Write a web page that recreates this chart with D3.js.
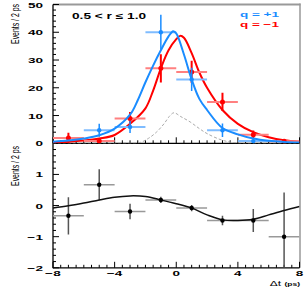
<!DOCTYPE html>
<html><head><meta charset="utf-8">
<script src="https://cdn.jsdelivr.net/npm/d3@7"></script>
<style>html,body{margin:0;padding:0;background:#fff;}svg{display:block;}</style>
</head><body>
<script>
// ---------- data ----------
const bins = [-7, -5, -3, -1, 1, 3, 5, 7];
const binHalfWidth = 1;
const plusVals  = [null, 4.7, 5.9, 40, 23, 4.7, 0.8, null];
const plusErr   = [null, 2.3, 2.2, 6.3, 4.2, 2.4, 1.0, null];
const minusVals = [1.9, 0.8, 8.9, 27, 25.7, 14.9, 3.1, 0.7];
const minusErr  = [1.9, 0.8, 2.4, 5.1, 4.0, 3.3, 1.5, 0.7];
const asymVals  = [-0.33, 0.67, -0.19, 0.18, -0.08, -0.48, -0.48, -1.0];
const asymErr   = [0.6, 0.5, 0.25, 0.1, 0.1, 0.15, 0.37, 1.42];

const plusCurveX  = [-8, -7, -6, -5, -4, -3, -2.5, -2, -1.5, -1, -0.5, -0.2, 0, 0.5, 1, 1.5, 2, 3, 4, 5, 6, 7, 8];
const plusCurveY  = [0.6, 1.0, 1.7, 2.9, 5.3, 10.3, 15.5, 22, 28, 33.5, 38.5, 40.4, 39.6, 32, 23, 16, 12, 5.5, 3.2, 1.7, 0.9, 0.5, 0.3];
const minusCurveX = [-8, -7, -6, -5, -4, -3, -2, -1.5, -1, -0.5, 0, 0.25, 0.5, 1, 1.5, 2, 3, 4, 5, 6, 7, 8];
const minusCurveY = [0.4, 0.6, 1.0, 1.7, 3.0, 7.0, 12.6, 19, 27, 33.5, 37.5, 38.7, 38, 32.5, 25.5, 20, 12, 7, 4, 2.2, 1.1, 0.6];
const bkgCurveX   = [-8, -3.5, -2.35, -1.8, -1.27, -0.8, -0.4, -0.15, 0.3, 0.9, 1.5, 2, 3, 4, 8];
const bkgCurveY   = [0, 0, 0.3, 1.8, 4.1, 7.0, 10, 11, 9.6, 7.7, 5.3, 3.5, 1.1, 0.1, 0];
const asymCurveX  = [-8, -7, -6, -5, -4, -3, -2, -1, 0, 1, 2, 3, 4, 5, 6, 7, 8];
const asymCurveY  = [-0.08, -0.01, 0.08, 0.18, 0.27, 0.31, 0.29, 0.18, 0.06, -0.08, -0.3, -0.46, -0.48, -0.44, -0.3, -0.16, -0.03];

const yTopTicks = [0, 10, 20, 30, 40, 50];
const yBotTicks = [-2, -1, 0, 1];
const xTicks = [-8, -4, 0, 4, 8];

// ---------- layout ----------
const W = 305, H = 288;
const L = 53, R = 299.5, T = 4.5, MID = 143.3, B = 267.8;
const blue = "#1a8cff", red = "#ff0000";
const blueLight = "#7fbcff", redLight = "#ff8080";

const svg = d3.select("body").append("svg").attr("width", W).attr("height", H);

const x = d3.scaleLinear().domain([-8, 8]).range([L, R]);
const yT = d3.scaleLinear().domain([0, 50]).range([MID, T]);
const yB = d3.scaleLinear().domain([-2, 2]).range([B, MID]);

svg.append("clipPath").attr("id", "cT").append("rect")
  .attr("x", L).attr("y", T).attr("width", R - L).attr("height", MID - T);
svg.append("clipPath").attr("id", "cB").append("rect")
  .attr("x", L).attr("y", MID).attr("width", R - L).attr("height", B - MID);

// frame
svg.append("line").attr("x1", L).attr("x2", R + 1).attr("y1", T).attr("y2", T)
  .attr("stroke", "#999").attr("stroke-width", 2);
svg.append("line").attr("x1", R + 0.5).attr("x2", R + 0.5).attr("y1", T - 1).attr("y2", B)
  .attr("stroke", "#999").attr("stroke-width", 1.5);

// ticks
const tk = svg.append("g").attr("stroke", "#000").attr("stroke-width", 1);
d3.range(0, 50.01, 2).forEach(v => {
  const major = v % 10 === 0;
  tk.append("line").attr("x1", L).attr("x2", L + (major ? 6 : 3))
    .attr("y1", yT(v)).attr("y2", yT(v));
});
d3.range(-2, 2.001, 0.2).forEach(v => {
  const major = Math.abs(v - Math.round(v)) < 1e-6;
  tk.append("line").attr("x1", L).attr("x2", L + (major ? 6 : 3))
    .attr("y1", yB(v)).attr("y2", yB(v));
});
[MID, B].forEach(yy => {
  d3.range(-8, 8.001, 0.5).forEach(v => {
    const major = Math.abs(v % 4) < 1e-6;
    tk.append("line").attr("x1", x(v)).attr("x2", x(v))
      .attr("y1", yy).attr("y2", yy - (major ? 6 : 3));
  });
});

// axes lines
svg.append("line").attr("x1", L).attr("x2", L).attr("y1", T).attr("y2", B + 0.5)
  .attr("stroke", "#000").attr("stroke-width", 1.3);
svg.append("line").attr("x1", L).attr("x2", R).attr("y1", MID).attr("y2", MID)
  .attr("stroke", "#000").attr("stroke-width", 1.2);
svg.append("line").attr("x1", L).attr("x2", R).attr("y1", B).attr("y2", B)
  .attr("stroke", "#000").attr("stroke-width", 1.3);

// text helper (horizontally wide / vertically squished)
function sText(g, tx, ty, str, opts) {
  const o = Object.assign({ size: 13.5, weight: "bold", anchor: "start", sy: 0.6, fill: "#000", rot: 0, family: "Liberation Sans, Arial, sans-serif" }, opts || {});
  const gg = g.append("g").attr("transform", `translate(${tx},${ty}) rotate(${o.rot}) scale(${o.rot ? o.sy : 1},${o.rot ? 1 : o.sy})`);
  return gg.append("text").attr("x", 0).attr("y", 0)
    .attr("font-family", o.family).attr("font-size", o.size).attr("font-weight", o.weight)
    .attr("text-anchor", o.anchor).attr("fill", o.fill).text(str);
}

const tg = svg.append("g");
yTopTicks.forEach(v => sText(tg, 43, yT(v) + 3, String(v), { anchor: "end", size: 13.5 }));
yBotTicks.forEach(v => sText(tg, 43, yB(v) + 3, v < 0 ? "\u2212" + Math.abs(v) : String(v), { anchor: "end", size: 13.5 }));
xTicks.forEach(v => sText(tg, x(v), 276, v < 0 ? "\u2212" + Math.abs(v) : String(v), { anchor: "middle", size: 13.5 }));

// axis title x
const xt = svg.append("g").attr("transform", "translate(300,286) scale(1,0.6)");
const xtt = xt.append("text").attr("text-anchor", "end").attr("font-family", "Liberation Sans, Arial, sans-serif");
xtt.append("tspan").attr("font-size", 12).text("\u0394t ");
xtt.append("tspan").attr("font-size", 8.5).attr("font-weight", "bold").text("(ps)");

// y titles (rotated, squished along text)
function yTitle(cy) {
  const g = svg.append("g").attr("transform", `translate(19,${cy}) rotate(-90) scale(0.6,1)`);
  g.append("text").attr("text-anchor", "middle").attr("font-family", "Liberation Sans, Arial, sans-serif")
    .attr("font-size", 11.5).text("Events / 2 ps");
}
yTitle(24);
yTitle(166);

// labels in panel
sText(svg, 72, 19, "0.5 < r \u2264 1.0", { size: 13.7 });
sText(svg, 240, 17, "q = +1", { size: 13.5, fill: blue });
sText(svg, 240, 27, "q =  \u22121", { size: 13.5, fill: red });

// curves
const lineT = d3.line().x(d => x(d[0])).y(d => yT(d[1])).curve(d3.curveCatmullRom.alpha(0.5));
const lineB = d3.line().x(d => x(d[0])).y(d => yB(d[1])).curve(d3.curveCatmullRom.alpha(0.5));
const cg = svg.append("g").attr("clip-path", "url(#cT)");
cg.append("path").datum(d3.zip(bkgCurveX, bkgCurveY)).attr("d", lineT)
  .attr("fill", "none").attr("stroke", "#aaa").attr("stroke-width", 1).attr("stroke-dasharray", "3,2");

// error bars top
function drawPoints(vals, errs, col, light, vw, r) {
  const g = svg.append("g").attr("clip-path", "url(#cT)");
  const data = bins.map((b, i) => ({ b, v: vals[i], e: errs[i] })).filter(d => d.v !== null);
  g.selectAll(".h").data(data).enter().append("line")
    .attr("x1", d => x(d.b - binHalfWidth)).attr("x2", d => x(d.b + binHalfWidth))
    .attr("y1", d => yT(d.v)).attr("y2", d => yT(d.v))
    .attr("stroke", light).attr("stroke-width", 2);
  g.selectAll(".v").data(data).enter().append("line")
    .attr("x1", d => x(d.b)).attr("x2", d => x(d.b))
    .attr("y1", d => yT(d.v - d.e)).attr("y2", d => yT(d.v + d.e))
    .attr("stroke", col).attr("stroke-width", vw);
  g.selectAll("circle").data(data).enter().append("circle")
    .attr("cx", d => x(d.b)).attr("cy", d => yT(d.v)).attr("r", r).attr("fill", col);
}
drawPoints(minusVals, minusErr, red, redLight, 2, 2.5);
drawPoints(plusVals, plusErr, blue, blueLight, 1.5, 2.2);

cg.append("path").datum(d3.zip(minusCurveX, minusCurveY)).attr("d", lineT)
  .attr("fill", "none").attr("stroke", red).attr("stroke-width", 2);
const cg2 = svg.append("g").attr("clip-path", "url(#cT)");
cg2.append("path").datum(d3.zip(plusCurveX, plusCurveY)).attr("d", lineT)
  .attr("fill", "none").attr("stroke", blue).attr("stroke-width", 2);

// bottom panel
const bg = svg.append("g").attr("clip-path", "url(#cB)");
const bdata = bins.map((b, i) => ({ b, v: asymVals[i], e: asymErr[i] }));
bg.selectAll(".h").data(bdata).enter().append("line")
  .attr("x1", d => x(d.b - binHalfWidth)).attr("x2", d => x(d.b + binHalfWidth))
  .attr("y1", d => yB(d.v)).attr("y2", d => yB(d.v))
  .attr("stroke", "#999").attr("stroke-width", 1.5);
bg.selectAll(".v").data(bdata).enter().append("line")
  .attr("x1", d => x(d.b)).attr("x2", d => x(d.b))
  .attr("y1", d => yB(d.v - d.e)).attr("y2", d => yB(d.v + d.e))
  .attr("stroke", "#555").attr("stroke-width", 1.5);
bg.append("path").datum(d3.zip(asymCurveX, asymCurveY)).attr("d", lineB)
  .attr("fill", "none").attr("stroke", "#111").attr("stroke-width", 1.5);
bg.selectAll("circle").data(bdata).enter().append("circle")
  .attr("cx", d => x(d.b)).attr("cy", d => yB(d.v)).attr("r", 2.2).attr("fill", "#000");
</script>
</body></html>
